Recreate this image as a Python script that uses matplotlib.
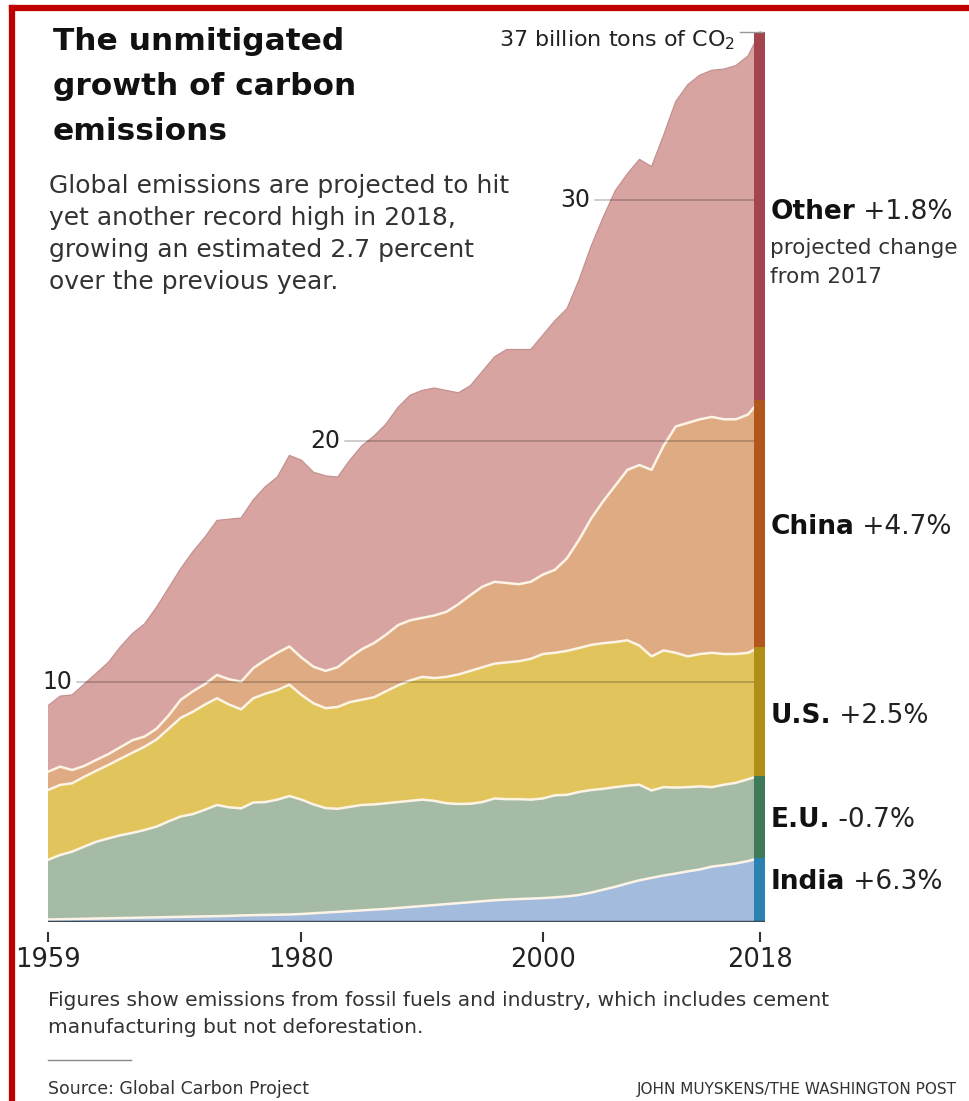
import numpy as np
import matplotlib
matplotlib.use("Agg")
import matplotlib.pyplot as plt

# billion tons of CO2 per year (stacked bottom -> top)
years = np.arange(1959, 2019)

india = [0.12, 0.13, 0.14, 0.15, 0.16, 0.17, 0.18, 0.19, 0.20, 0.21,
         0.22, 0.23, 0.24, 0.25, 0.26, 0.27, 0.29, 0.30, 0.31, 0.32,
         0.33, 0.35, 0.38, 0.41, 0.44, 0.47, 0.50, 0.53, 0.56, 0.60,
         0.64, 0.68, 0.72, 0.76, 0.80, 0.84, 0.88, 0.92, 0.95, 0.97,
         0.99, 1.01, 1.04, 1.08, 1.14, 1.24, 1.36, 1.48, 1.62, 1.75,
         1.85, 1.95, 2.03, 2.12, 2.20, 2.32, 2.38, 2.45, 2.55, 2.68]

eu = [2.48, 2.67, 2.80, 3.00, 3.19, 3.32, 3.44, 3.53, 3.64, 3.77,
      3.98, 4.17, 4.26, 4.43, 4.62, 4.51, 4.45, 4.68, 4.69, 4.78,
      4.92, 4.75, 4.52, 4.34, 4.28, 4.33, 4.38, 4.37, 4.39, 4.40,
      4.41, 4.42, 4.33, 4.19, 4.12, 4.09, 4.12, 4.23, 4.17, 4.15,
      4.11, 4.14, 4.24, 4.22, 4.28, 4.26, 4.19, 4.14, 4.06, 3.97,
      3.63, 3.67, 3.57, 3.50, 3.45, 3.30, 3.34, 3.35, 3.40, 3.42]

us = [2.90, 2.91, 2.84, 2.90, 2.95, 3.05, 3.18, 3.33, 3.46, 3.62,
      3.85, 4.10, 4.25, 4.37, 4.43, 4.27, 4.11, 4.33, 4.50, 4.55,
      4.63, 4.35, 4.20, 4.15, 4.23, 4.35, 4.37, 4.45, 4.65, 4.85,
      5.00, 5.10, 5.10, 5.25, 5.38, 5.52, 5.60, 5.60, 5.68, 5.73,
      5.85, 6.00, 5.92, 5.98, 5.98, 6.03, 6.05, 6.03, 6.04, 5.78,
      5.57, 5.68, 5.60, 5.43, 5.50, 5.58, 5.43, 5.35, 5.25, 5.35]

china = [0.76, 0.76, 0.55, 0.45, 0.45, 0.45, 0.48, 0.52, 0.42, 0.45,
         0.55, 0.75, 0.85, 0.85, 0.97, 1.05, 1.15, 1.25, 1.40, 1.55,
         1.58, 1.55, 1.52, 1.55, 1.65, 1.85, 2.10, 2.25, 2.35, 2.50,
         2.50, 2.45, 2.60, 2.70, 2.92, 3.15, 3.35, 3.40, 3.30, 3.20,
         3.20, 3.30, 3.45, 3.85, 4.50, 5.25, 5.90, 6.50, 7.08, 7.50,
         7.75, 8.50, 9.40, 9.70, 9.75, 9.80, 9.75, 9.75, 9.90, 10.25]

other = [2.74, 2.93, 3.12, 3.40, 3.60, 3.81, 4.17, 4.43, 4.68, 5.05,
         5.30, 5.45, 5.80, 6.10, 6.42, 6.65, 6.80, 6.99, 7.20, 7.30,
         7.94, 8.20, 8.08, 8.10, 7.90, 8.20, 8.45, 8.60, 8.75, 9.05,
         9.35, 9.45, 9.45, 9.20, 8.78, 8.70, 8.95, 9.35, 9.70, 9.75,
         9.65, 9.95, 10.35, 10.37, 10.80, 11.32, 11.80, 12.25, 12.30, 12.70,
         12.60, 12.90, 13.50, 14.05, 14.30, 14.40, 14.55, 14.70, 14.90, 15.30]

names = ["India", "E.U.", "U.S.", "China", "Other"]
changes = ["+6.3%", "-0.7%", "+2.5%", "+4.7%", "+1.8%"]
label_y = [1.68, 4.26, 8.58, 16.43, 29.51]

fill_colors = ["#a3bbdc", "#a5bba6", "#e1c45c", "#dfab82", "#d8a4a2"]
strip_colors = ["#2a82b2", "#3f7a5a", "#b08f18", "#b3561c", "#a4444f"]

grid_vals = [10, 20, 30]
grid_start = [1961.0, 1983.2, 2003.9]
xtick_years = [1959, 1980, 2000, 2018]

W, H = 969, 1101
fig = plt.figure(figsize=(W / 100, H / 100), dpi=100)


def fx(px):
    return px / W


def fy(py):
    return 1 - py / H


ax = fig.add_axes([fx(48), fy(922.4), fx(765) - fx(48), fy(7.7) - fy(922.4)])
ax.set_xlim(1959, 2018.4)
ax.set_ylim(0, 38)

series = [india, eu, us, china, other]
ax.stackplot(years, *series, colors=fill_colors, linewidth=0, zorder=1)

tops = np.cumsum(np.array(series), axis=0)
for row in tops[:-1]:
    ax.plot(years, row, color="#fdf4e6", lw=1.8, zorder=2)
ax.plot(years, tops[-1], color="#c4918f", lw=0.9, zorder=2)

# dark strip on the last year
bottoms = np.vstack([np.zeros(len(years)), tops[:-1]])
ax.bar([2017.95] * 5, [s[-1] for s in series], bottom=bottoms[:, -1],
       width=0.9, color=strip_colors, linewidth=0, zorder=3)

# gridlines with inline labels
for v, x0 in zip(grid_vals, grid_start):
    ax.plot([x0 + 0.4, 2017.5], [v, v], color="black", alpha=0.25, lw=1.1, zorder=2.5)
    ax.text(x0, v, str(v), ha="right", va="center", fontsize=17, color="#222")

# baseline and x ticks
ax.axhline(0, color="#3b4a52", lw=2.5, zorder=4)
for side in ["top", "right", "left", "bottom"]:
    ax.spines[side].set_visible(False)
ax.spines["bottom"].set_position(("outward", 7))
ax.set_yticks([])
ax.set_xticks(xtick_years)
ax.set_xticklabels([str(y) for y in xtick_years], fontsize=18.5, color="#222")
ax.tick_params(axis="x", length=7, width=1.5, color="#333", pad=4)

# top annotation
ax.text(2015.9, 36.66, "37 billion tons of CO$_2$", ha="right", va="center",
        fontsize=16, color="#222")
ax.plot([2016.3, 2018.2], [37.0, 37.0], color="#999", lw=1, clip_on=False, zorder=5)

# right-hand labels
for name, chg, yv in zip(names, changes, label_y):
    t = ax.text(2018.85, yv, name, ha="left", va="center", fontsize=19,
                fontweight="bold", color="#111", clip_on=False)
    ax.annotate(" " + chg, xy=(1, 0), xycoords=t, ha="left", va="bottom",
                fontsize=19, color="#222")
ax.text(2018.85, 28.0, "projected change", ha="left", va="center", fontsize=15.5, color="#333")
ax.text(2018.85, 26.8, "from 2017", ha="left", va="center", fontsize=15.5, color="#333")

# title and subtitle
title_lines = ["The unmitigated", "growth of carbon", "emissions"]
for line, py in zip(title_lines, [50, 95, 140]):
    fig.text(fx(53), fy(py), line, ha="left", va="baseline", fontsize=22.5,
             fontweight="bold", color="#111")

sub_lines = ["Global emissions are projected to hit",
             "yet another record high in 2018,",
             "growing an estimated 2.7 percent",
             "over the previous year."]
for line, py in zip(sub_lines, [193, 225, 257, 289]):
    fig.text(fx(49), fy(py), line, ha="left", va="baseline", fontsize=18, color="#333")

# footer
fig.text(fx(48), fy(1006), "Figures show emissions from fossil fuels and industry, which includes cement",
         ha="left", va="baseline", fontsize=14.5, color="#333")
fig.text(fx(48), fy(1033), "manufacturing but not deforestation.",
         ha="left", va="baseline", fontsize=14.5, color="#333")
fig.add_artist(plt.Line2D([fx(48), fx(131)], [fy(1060), fy(1060)], color="#888", lw=1))
fig.text(fx(48), fy(1094), "Source: Global Carbon Project", ha="left", va="baseline",
         fontsize=12.5, color="#333")
fig.text(fx(957), fy(1094), "JOHN MUYSKENS/THE WASHINGTON POST", ha="right", va="baseline",
         fontsize=11, color="#333")

# red frame
fig.add_artist(plt.Line2D([fx(12), fx(969)], [fy(8), fy(8)], color="#c00000", lw=4.5))
fig.add_artist(plt.Line2D([fx(12), fx(12)], [fy(8), fy(1101)], color="#c00000", lw=4.5))

fig.savefig("out.png", dpi=100)
